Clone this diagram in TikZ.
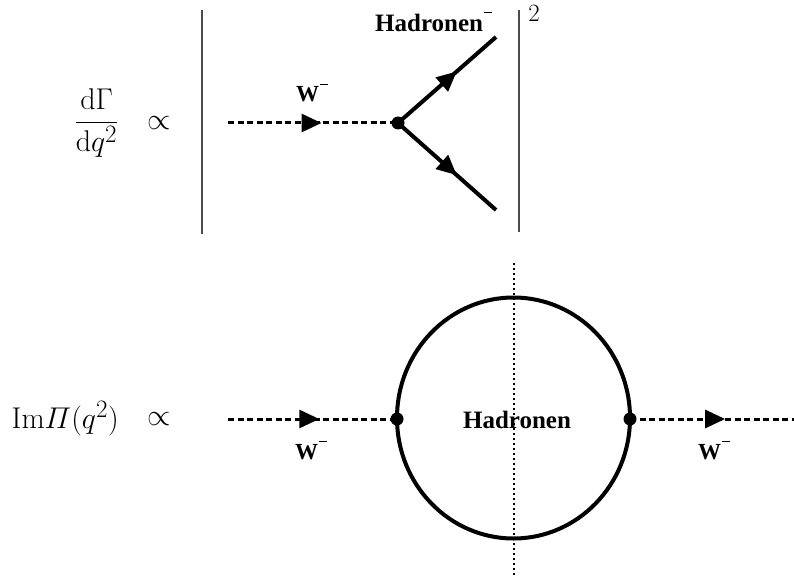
\documentclass[tikz,border=0pt]{standalone}
\usepackage{amsmath}
\usepackage{fontspec}
\newfontfamily\libserif{Liberation Serif}
\usetikzlibrary{arrows.meta,decorations.markings}
\newcommand{\supminus}[1]{\hspace{0.5pt}\rule[#1]{8pt}{1.3pt}}
\tikzset{
  fermion/.style={line width=4pt},
  boson/.style={line width=3pt, dash pattern=on 6pt off 3.5pt},
  cutline/.style={line width=2.4pt, dash pattern=on 2.4pt off 2.6pt},
  absbar/.style={line width=1.5pt, draw=black!70},
  midarrow/.style={postaction={decorate}, decoration={markings,
     mark=at position #1 with {\arrow{Triangle[length=20pt,width=18pt]}}}},
  vertexdot/.style={circle, fill=black, inner sep=0pt, minimum size=13pt},
  hlabel/.style={inner sep=0pt, font=\libserif\bfseries\fontsize{25}{30}\selectfont},
  wlabel/.style={inner sep=0pt, font=\libserif\bfseries\fontsize{23}{27}\selectfont},
  mathlabel/.style={inner sep=0pt, font=\Huge, scale=1.206},
}
\begin{document}
\begin{tikzpicture}[x=1pt,y=-1pt]
\useasboundingbox (0,0) rectangle (794,577);
% ---------- top ----------
\node[mathlabel, anchor=east] (frac) at (119,123) {$\displaystyle\frac{\mathrm{d}\Gamma}{\mathrm{d}q^2}$};
\node[mathlabel] (prop1) at (159,123) {$\propto$};
\coordinate (barLt) at (202,10);
\coordinate (barLb) at (202,234);
\coordinate (barRt) at (519,10);
\coordinate (barRb) at (519,232);
\draw[absbar] (barLt) -- (barLb);
\draw[absbar] (barRt) -- (barRb);
\node[inner sep=0pt, font=\Huge] (sq) at (534,13) {2};
\coordinate (win) at (228,123);
\node[vertexdot] (vtop) at (398,123) {};
\coordinate (hup) at (496,37);
\coordinate (hdown) at (496,210);
\draw[boson, midarrow=0.55] (win) -- (vtop.center);
\draw[fermion, midarrow=0.6] (vtop.center) -- (hup);
\draw[fermion, midarrow=0.6] (vtop.center) -- (hdown);
\node[wlabel, anchor=base west] (wtop) at (296,102) {W\supminus{17pt}};
\node[hlabel, anchor=base west] (htop) at (375,32) {Hadronen\supminus{19pt}};
% ---------- bottom ----------
\node[mathlabel, anchor=east] (impi) at (119,419) {$\mathrm{Im}\varPi(q^2)$};
\node[mathlabel] (prop2) at (159,419) {$\propto$};
\coordinate (cc) at (513.5,418);
\draw[fermion] (cc) ellipse [x radius=116.5, y radius=120.5];
\coordinate (cuttop) at (514,263);
\coordinate (cutbot) at (514,577);
\draw[cutline] (cuttop) -- (cutbot);
\coordinate (wl) at (228,419);
\coordinate (wr) at (794,419);
\node[vertexdot] (vl) at (397,419) {};
\node[vertexdot] (vr) at (630,419) {};
\draw[boson, midarrow=0.54] (wl) -- (vl.center);
\draw[boson, midarrow=0.58] (vr.center) -- (wr);
\node[hlabel, anchor=base] (hbot) at (517,428) {Hadronen};
\node[wlabel, anchor=base west] (wbl) at (295,459) {W\supminus{17pt}};
\node[wlabel, anchor=base west] (wbr) at (698,459) {W\supminus{17pt}};
\end{tikzpicture}
\end{document}
